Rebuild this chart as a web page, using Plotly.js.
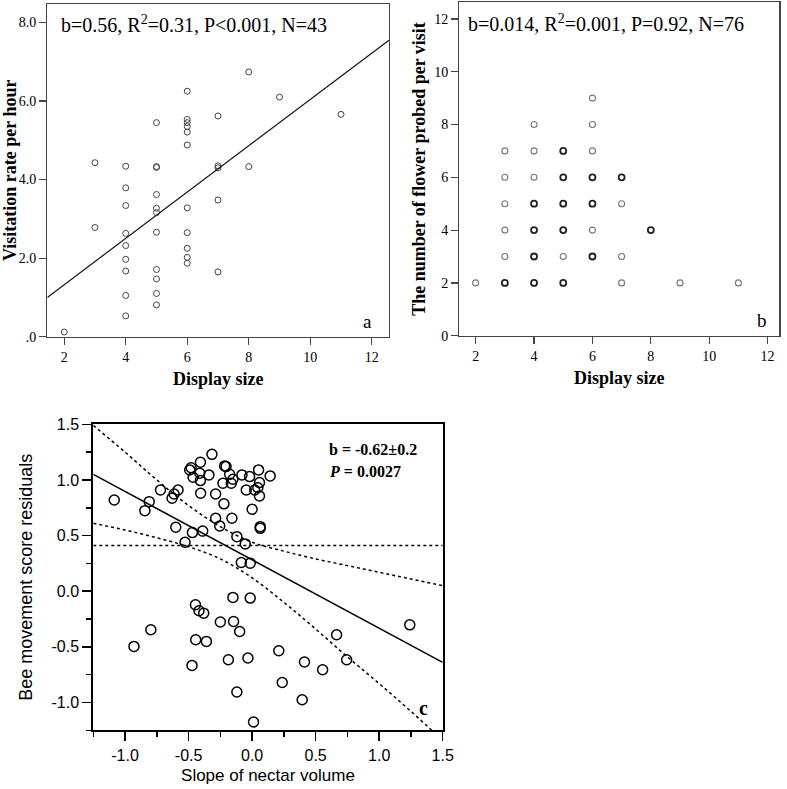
<!DOCTYPE html>
<html>
<head>
<meta charset="utf-8">
<script src="https://cdn.plot.ly/plotly-3.0.1.min.js"></script>
<style>html,body{margin:0;padding:0;background:#fff;}#chart{width:787px;height:789px;}</style>
</head>
<body>
<div id="chart"></div>
<script>
// ---------- Panel a: visitation rate vs display size ----------
var aX = [2, 3, 3, 4, 4, 4, 4, 4, 4, 4, 4, 4,
          5, 5, 5, 5, 5, 5, 5, 5, 5, 5, 5,
          6, 6, 6, 6, 6, 6, 6, 6, 6, 6, 6,
          7, 7, 7, 7, 7, 8, 8, 9, 11];
var aY = [0.12, 4.43, 2.78, 4.34, 3.79, 3.34, 2.63, 2.32, 1.97, 1.67, 1.05, 0.53,
          5.45, 4.33, 4.31, 3.62, 3.27, 3.16, 2.66, 1.71, 1.47, 1.10, 0.81,
          6.25, 5.53, 5.45, 5.35, 5.21, 4.88, 3.28, 2.65, 2.25, 2.02, 1.87,
          5.62, 4.35, 4.30, 3.48, 1.65, 6.74, 4.33, 6.10, 5.66];
var aFitX = [1.45, 12.56];
var aFitY = [1.00, 7.55];
var aStats = 'b=0.56, R<sup>2</sup>=0.31, P&lt;0.001, N=43';

// ---------- Panel b: flowers probed per visit vs display size ----------
var bX = [2, 3, 3, 3, 3, 3, 3, 4, 4, 4, 4, 4, 4, 4, 5, 5, 5, 5, 5, 5,
          6, 6, 6, 6, 6, 6, 6, 7, 7, 7, 7, 8, 9, 11];
var bY = [2, 2, 3, 4, 5, 6, 7, 2, 3, 4, 5, 6, 7, 8, 2, 3, 4, 5, 6, 7,
          3, 4, 5, 6, 7, 8, 9, 2, 3, 5, 6, 4, 2, 2];
var bN = [1, 3, 1, 1, 1, 1, 1, 4, 4, 4, 4, 1, 1, 1, 4, 1, 4, 4, 4, 4,
          4, 1, 4, 4, 1, 1, 1, 1, 1, 1, 3, 3, 1, 1];
var bStats = 'b=0.014, R<sup>2</sup>=0.001, P=0.92, N=76';

// ---------- Panel c: bee movement residuals vs slope of nectar volume ----------
var cX = [-1.085, -0.844, -0.81, -0.721, -0.63, -0.614, -0.583, -0.601, -0.528, -0.47, -0.389,
          -0.491, -0.48, -0.465, -0.407, -0.412, -0.407, -0.405, -0.34, -0.316, -0.287, -0.216, -0.205,
          -0.23, -0.164, -0.177, -0.151, -0.222, -0.08, -0.02, 0.051, 0.142, 0.058, -0.046, 0.02,
          0.045, 0.058, 0.0,
          -0.287, -0.255, -0.159, -0.12, 0.064, 0.064, -0.054, -0.085, -0.015,
          -0.93, -0.797, -0.446, -0.418, -0.381, -0.444, -0.36, -0.473, -0.25, -0.151, -0.146,
          -0.098, -0.187, -0.12, -0.015, -0.033, 0.011, 0.21, 0.412, 0.237, 0.394, 0.555, 0.665,
          0.744, 1.241];
var cY = [0.82, 0.724, 0.805, 0.91, 0.836, 0.874, 0.91, 0.575, 0.44, 0.527, 0.54,
          1.09, 1.11, 1.024, 1.159, 1.06, 0.994, 0.88, 1.045, 1.23, 0.874, 1.126, 1.12,
          0.97, 0.97, 1.05, 1.006, 0.785, 1.045, 1.03, 1.09, 1.036, 0.976, 0.91, 0.91,
          0.93, 0.856, 0.737,
          0.656, 0.587, 0.656, 0.49, 0.58, 0.565, 0.425, 0.258, 0.252,
          -0.496, -0.346, -0.122, -0.176, -0.197, -0.436, -0.451, -0.667, -0.277, -0.056, -0.272,
          -0.362, -0.616, -0.906, -0.062, -0.60, -1.175, -0.535, -0.636, -0.82, -0.975, -0.706, -0.391,
          -0.616, -0.302];
var cFitX = [-1.25, 1.5];
var cFitY = [1.05, -0.64];
var cBandX = [-1.25, -1.0, -0.75, -0.5, -0.25, 0, 0.25, 0.5, 0.75, 1.0, 1.25, 1.5];
var cBandUpper = [1.49, 1.25, 1.00, 0.77, 0.58, 0.44, 0.36, 0.29, 0.23, 0.17, 0.11, 0.05];
var cBandLower = [0.61, 0.55, 0.48, 0.40, 0.29, 0.12, -0.10, -0.34, -0.59, -0.83, -1.08, -1.34];
var cRefX = [-1.25, 1.5];
var cRefY = [0.41, 0.41];
var cStat1 = '<b>b = -0.62±0.2</b>';
var cStat2 = '<b><i>P</i> = 0.0027</b>';

var abTicks = [2, 4, 6, 8, 10, 12];
var aYTicks = [0, 2, 4, 6, 8];
var aYText = ['.0', '2.0', '4.0', '6.0', '8.0'];
var bYTicks = [0, 2, 4, 6, 8, 10, 12];
var cTicks = [-1.0, -0.5, 0.0, 0.5, 1.0, 1.5];
var cTickText = ['-1.0', '-0.5', '0.0', '0.5', '1.0', '1.5'];
var cMinor = [-1.25, -0.75, -0.25, 0.25, 0.75, 1.25];

// ---------- layout helpers ----------
var W = 787, H = 789;
function PX(p) { return p / W; }
function PY(p) { return 1 - p / H; }
var SERIF = 'Liberation Serif, Times New Roman, serif';
var SANS = 'Liberation Sans, Arial, Helvetica, sans-serif';

var traces = [
  {x: aX, y: aY, xaxis: 'x', yaxis: 'y', type: 'scatter', mode: 'markers',
   marker: {symbol: 'circle-open', size: 6, color: '#444', line: {width: 1, color: '#444'}}, hoverinfo: 'x+y'},
  {x: aFitX, y: aFitY, xaxis: 'x', yaxis: 'y', type: 'scatter', mode: 'lines',
   line: {color: '#111', width: 1.2}},
  {x: bX, y: bY, xaxis: 'x2', yaxis: 'y2', type: 'scatter', mode: 'markers',
   marker: {symbol: 'circle-open', size: 6,
            color: bN.map(function (n) { return n > 1 ? '#222' : '#777'; }),
            line: {width: bN.map(function (n) { return n > 1 ? 1.8 : 1.1; })}}},
  {x: cBandX, y: cBandUpper, xaxis: 'x3', yaxis: 'y3', type: 'scatter', mode: 'lines',
   line: {color: '#000', width: 1.5, dash: 'dot', shape: 'spline'}},
  {x: cBandX, y: cBandLower, xaxis: 'x3', yaxis: 'y3', type: 'scatter', mode: 'lines',
   line: {color: '#000', width: 1.5, dash: 'dot', shape: 'spline'}},
  {x: cRefX, y: cRefY, xaxis: 'x3', yaxis: 'y3', type: 'scatter', mode: 'lines',
   line: {color: '#000', width: 1.5, dash: 'dot'}},
  {x: cFitX, y: cFitY, xaxis: 'x3', yaxis: 'y3', type: 'scatter', mode: 'lines',
   line: {color: '#000', width: 1.6}},
  {x: cX, y: cY, xaxis: 'x3', yaxis: 'y3', type: 'scatter', mode: 'markers',
   marker: {symbol: 'circle-open', size: 10, color: '#000', line: {width: 1.5, color: '#000'}}}
];

var serifTick = {family: SERIF, size: 14, color: '#000'};
var serifTitle = {family: SERIF, size: 18, color: '#000'};
var sansTick = {family: SANS, size: 16, color: '#000'};

function abAxis(extra) {
  var o = {showgrid: false, zeroline: false, showline: true, mirror: true,
           linecolor: '#444', linewidth: 1.3, ticks: 'outside', ticklen: 7,
           tickcolor: '#444', tickwidth: 1.2, tickfont: serifTick, fixedrange: true};
  for (var k in extra) o[k] = extra[k];
  return o;
}
function cAxis(extra) {
  var o = {showgrid: false, zeroline: false, showline: true, mirror: true,
           linecolor: '#000', linewidth: 2, ticks: 'outside', ticklen: 9,
           tickcolor: '#000', tickwidth: 1.5, tickfont: sansTick, fixedrange: true,
           tickvals: cTicks, ticktext: cTickText,
           minor: {tickvals: cMinor, ticks: 'outside', ticklen: 5, tickcolor: '#000', tickwidth: 1.5, showgrid: false}};
  for (var k in extra) o[k] = extra[k];
  return o;
}

var layout = {
  width: W, height: H,
  margin: {l: 0, r: 0, t: 0, b: 0},
  paper_bgcolor: '#fff', plot_bgcolor: '#fff',
  showlegend: false,
  xaxis: abAxis({domain: [PX(47.3), PX(389)], range: [1.45, 12.56], tickvals: abTicks,
                 anchor: 'y', title: {text: '<b>Display size</b>', font: serifTitle, standoff: 8}}),
  yaxis: abAxis({domain: [PY(336.7), PY(4)], range: [0, 8.47], tickvals: aYTicks, ticktext: aYText,
                 anchor: 'x', title: {text: '<b>Visitation rate per hour</b>', font: serifTitle, standoff: 2}}),
  xaxis2: abAxis({domain: [PX(459.3), PX(779.3)], range: [1.44, 12.4], tickvals: abTicks,
                  anchor: 'y2', title: {text: '<b>Display size</b>', font: serifTitle, standoff: 8}}),
  yaxis2: abAxis({domain: [PY(335.7), PY(2.3)], range: [0, 12.63], tickvals: bYTicks,
                  anchor: 'x2', title: {text: '<b>The number of flower probed per visit</b>', font: serifTitle, standoff: 4}}),
  xaxis3: cAxis({domain: [PX(93.3), PX(442.7)], range: [-1.25, 1.5], anchor: 'y3',
                 title: {text: 'Slope of nectar volume', font: {family: SANS, size: 17, color: '#000'}, standoff: 7}}),
  yaxis3: cAxis({domain: [PY(730.3), PY(424.3)], range: [-1.25, 1.5], anchor: 'x3',
                 title: {text: 'Bee movement score residuals', font: {family: SANS, size: 18, color: '#000'}, standoff: 14}}),
  annotations: [
    {xref: 'paper', yref: 'paper', x: PX(59), y: PY(24), xanchor: 'left', yanchor: 'middle',
     text: aStats, showarrow: false, font: {family: SERIF, size: 20, color: '#000'}},
    {xref: 'paper', yref: 'paper', x: PX(466), y: PY(23), xanchor: 'left', yanchor: 'middle',
     text: bStats, showarrow: false, font: {family: SERIF, size: 20, color: '#000'}},
    {xref: 'paper', yref: 'paper', x: PX(367), y: PY(321), xanchor: 'center', yanchor: 'middle',
     text: 'a', showarrow: false, font: {family: SERIF, size: 19, color: '#000'}},
    {xref: 'paper', yref: 'paper', x: PX(762), y: PY(320), xanchor: 'center', yanchor: 'middle',
     text: 'b', showarrow: false, font: {family: SERIF, size: 19, color: '#000'}},
    {xref: 'paper', yref: 'paper', x: PX(327), y: PY(449), xanchor: 'left', yanchor: 'middle',
     text: cStat1, showarrow: false, font: {family: SERIF, size: 16, color: '#000'}},
    {xref: 'paper', yref: 'paper', x: PX(327), y: PY(471), xanchor: 'left', yanchor: 'middle',
     text: cStat2, showarrow: false, font: {family: SERIF, size: 16, color: '#000'}},
    {xref: 'paper', yref: 'paper', x: PX(424), y: PY(708), xanchor: 'center', yanchor: 'middle',
     text: '<b>c</b>', showarrow: false, font: {family: SERIF, size: 20, color: '#000'}}
  ]
};

Plotly.newPlot('chart', traces, layout, {displayModeBar: false, staticPlot: true});
</script>
</body>
</html>
